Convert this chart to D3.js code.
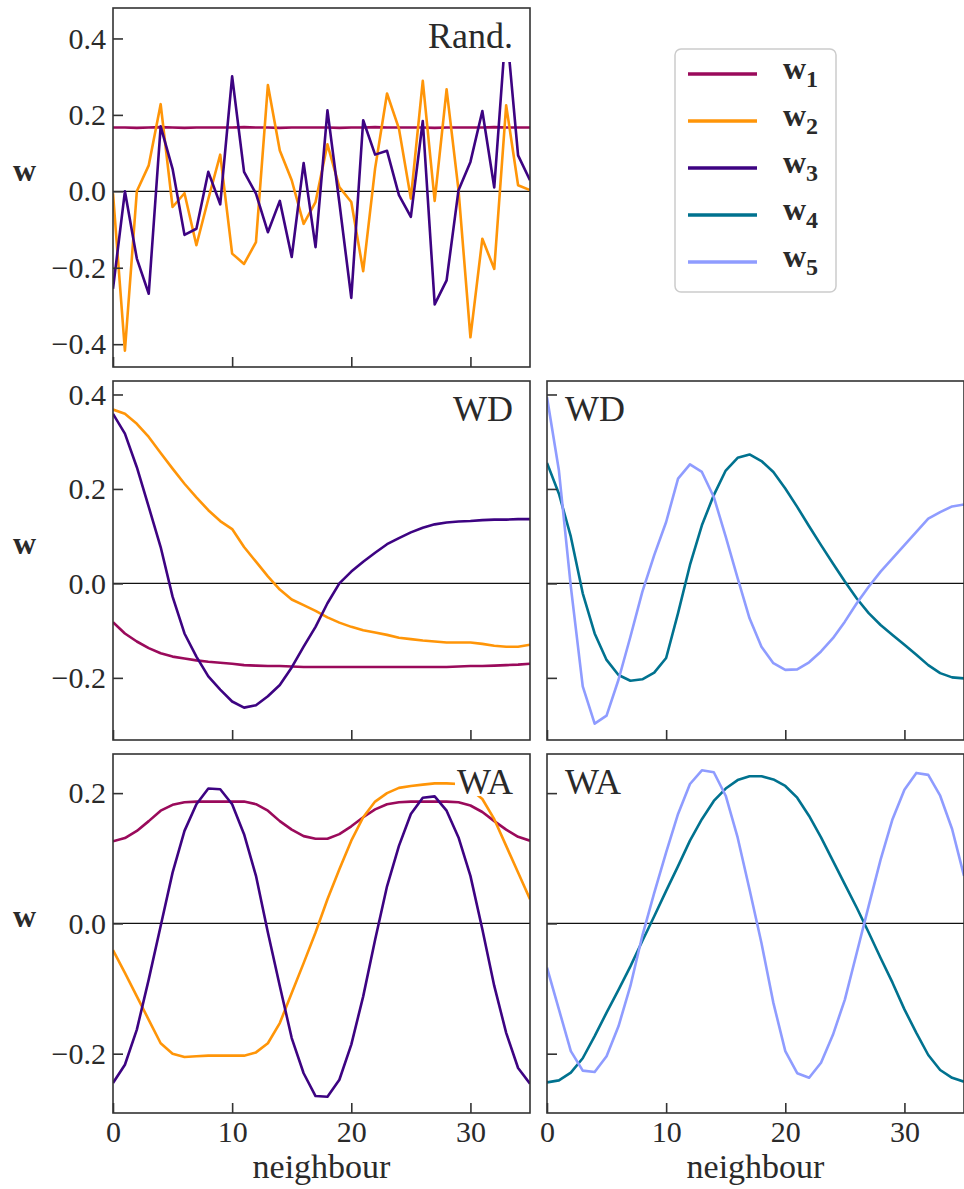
<!DOCTYPE html>
<meta charset="utf-8">
<style>
body { margin: 0; background: #fff; }
svg text { font-family: "Liberation Serif", "Times New Roman", serif !important; fill: #2a2a2a; }
.frame { fill: none; stroke: #333; stroke-width: 1.6; }
.tick line { stroke: #333; stroke-width: 1.6; }
.zero { stroke: #111; stroke-width: 1.3; }
.series { fill: none; stroke-width: 2.6; stroke-linejoin: round; }
</style>
<svg id="svg" width="964" height="1189"></svg>
<script src="https://d3js.org/d3.v7.min.js"></script>
<script>

var neighbour = [0,1,2,3,4,5,6,7,8,9,10,11,12,13,14,15,16,17,18,19,20,21,22,23,24,25,26,27,28,29,30,31,32,33,34,35];
var xTicks = [0, 10, 20, 30];

var seriesNames = ["w1", "w2", "w3", "w4", "w5"];
var seriesColors = ["#9a0a5b", "#ff9508", "#3d0382", "#00728f", "#8f9cff"];

// Rand.
var randW1 = [0.167,0.167,0.166,0.167,0.168,0.167,0.166,0.167,0.167,0.167,0.167,0.168,0.167,0.167,0.166,0.167,0.167,0.167,0.167,0.166,0.167,0.167,0.168,0.167,0.167,0.167,0.167,0.166,0.167,0.167,0.167,0.167,0.168,0.167,0.167,0.167];
var randW2 = [-0.005,-0.417,0.0,0.068,0.228,-0.041,-0.005,-0.141,-0.02,0.096,-0.163,-0.19,-0.133,0.278,0.107,0.029,-0.085,-0.028,0.123,0.011,-0.028,-0.209,0.06,0.256,0.164,-0.019,0.289,-0.025,0.267,0.003,-0.382,-0.124,-0.203,0.225,0.016,0.003];
var randW3 = [-0.255,0.0,-0.176,-0.268,0.17,0.059,-0.114,-0.098,0.051,-0.034,0.301,0.051,-0.006,-0.107,-0.025,-0.172,0.074,-0.146,0.212,-0.03,-0.279,0.186,0.096,0.106,-0.01,-0.067,0.184,-0.296,-0.233,0.003,0.077,0.21,0.01,0.437,0.094,0.029];

// WD
var wdW1 = [-0.082,-0.106,-0.123,-0.137,-0.148,-0.155,-0.159,-0.163,-0.166,-0.168,-0.17,-0.173,-0.174,-0.175,-0.175,-0.176,-0.177,-0.177,-0.177,-0.177,-0.177,-0.177,-0.177,-0.177,-0.177,-0.177,-0.177,-0.177,-0.177,-0.176,-0.175,-0.175,-0.174,-0.173,-0.172,-0.17];
var wdW2 = [0.368,0.359,0.338,0.31,0.276,0.243,0.211,0.182,0.155,0.132,0.115,0.077,0.046,0.015,-0.013,-0.034,-0.046,-0.058,-0.072,-0.083,-0.092,-0.099,-0.104,-0.109,-0.115,-0.118,-0.121,-0.123,-0.125,-0.125,-0.125,-0.128,-0.132,-0.134,-0.134,-0.13];
var wdW3 = [0.359,0.317,0.246,0.162,0.077,-0.028,-0.106,-0.155,-0.197,-0.225,-0.25,-0.263,-0.258,-0.239,-0.215,-0.178,-0.134,-0.092,-0.042,0.0,0.025,0.046,0.065,0.083,0.096,0.108,0.118,0.125,0.129,0.131,0.132,0.134,0.135,0.135,0.136,0.136];
var wdW4 = [0.255,0.19,0.099,-0.021,-0.106,-0.162,-0.194,-0.206,-0.203,-0.189,-0.158,-0.063,0.039,0.123,0.187,0.239,0.266,0.273,0.259,0.236,0.201,0.162,0.121,0.081,0.042,0.004,-0.032,-0.063,-0.088,-0.109,-0.13,-0.151,-0.173,-0.19,-0.199,-0.201];
var wdW5 = [0.394,0.239,-0.007,-0.218,-0.297,-0.28,-0.204,-0.113,-0.018,0.06,0.13,0.222,0.252,0.236,0.183,0.099,0.011,-0.074,-0.134,-0.169,-0.183,-0.182,-0.167,-0.144,-0.116,-0.081,-0.042,-0.007,0.025,0.053,0.081,0.109,0.137,0.151,0.163,0.167];

// WA
var waW1 = [0.126,0.131,0.142,0.157,0.173,0.182,0.186,0.187,0.187,0.187,0.187,0.187,0.183,0.173,0.157,0.144,0.134,0.13,0.13,0.137,0.149,0.163,0.175,0.183,0.186,0.187,0.187,0.187,0.187,0.186,0.181,0.171,0.157,0.144,0.133,0.127];
var waW2 = [-0.041,-0.076,-0.112,-0.148,-0.184,-0.2,-0.205,-0.204,-0.203,-0.203,-0.203,-0.203,-0.198,-0.184,-0.153,-0.107,-0.061,-0.014,0.037,0.083,0.127,0.163,0.187,0.2,0.208,0.211,0.213,0.215,0.215,0.214,0.206,0.191,0.16,0.119,0.078,0.037];
var waW3 = [-0.245,-0.217,-0.163,-0.086,-0.004,0.078,0.142,0.183,0.207,0.206,0.183,0.137,0.073,-0.014,-0.096,-0.176,-0.23,-0.265,-0.266,-0.24,-0.186,-0.112,-0.025,0.057,0.119,0.168,0.193,0.195,0.173,0.132,0.073,-0.009,-0.096,-0.168,-0.222,-0.246];
var waW4 = [-0.244,-0.241,-0.229,-0.207,-0.173,-0.137,-0.102,-0.066,-0.027,0.011,0.05,0.088,0.127,0.16,0.188,0.207,0.22,0.226,0.226,0.221,0.211,0.193,0.165,0.132,0.096,0.06,0.024,-0.014,-0.053,-0.091,-0.132,-0.168,-0.202,-0.225,-0.237,-0.243];
var waW5 = [-0.068,-0.132,-0.196,-0.226,-0.228,-0.204,-0.158,-0.096,-0.019,0.047,0.109,0.168,0.214,0.235,0.232,0.196,0.132,0.052,-0.03,-0.122,-0.196,-0.23,-0.237,-0.214,-0.171,-0.117,-0.045,0.027,0.098,0.16,0.205,0.231,0.228,0.196,0.145,0.073];

var yTicksRand = [-0.4, -0.2, 0.0, 0.2, 0.4];
var yTicksWD = [-0.2, 0.0, 0.2, 0.4];
var yTicksWA = [-0.2, 0.0, 0.2];

var svg = d3.select("svg");

var colX = [113, 547], plotW = 417;
var rowY = [8, 381, 754], plotH = 359;

// boxDepth: how far the white label box reaches below the baseline
var rows = [
  { ticks: yTicksRand, panels: [
      { col: 0, label: "Rand.", boxDepth: 14, series: [[0, randW1], [1, randW2], [2, randW3]] } ] },
  { ticks: yTicksWD, panels: [
      { col: 0, label: "WD", boxDepth: 3, series: [[0, wdW1], [1, wdW2], [2, wdW3]] },
      { col: 1, label: "WD", boxDepth: 3, series: [[3, wdW4], [4, wdW5]] } ] },
  { ticks: yTicksWA, panels: [
      { col: 0, label: "WA", boxDepth: 2, series: [[0, waW1], [1, waW2], [2, waW3]] },
      { col: 1, label: "WA", boxDepth: 2, series: [[3, waW4], [4, waW5]] } ] }
];

var fmt = d3.format(".1f");

rows.forEach(function(row, ri) {
  // shared y range per row, with a 5% margin like matplotlib
  var all = [];
  row.panels.forEach(function(p) { p.series.forEach(function(s) { all = all.concat(s[1]); }); });
  var lo = d3.min(all), hi = d3.max(all), pad = (hi - lo) * 0.05;
  var y = d3.scaleLinear().domain([lo - pad, hi + pad]).range([rowY[ri] + plotH, rowY[ri]]);

  row.panels.forEach(function(p, pi) {
    var x = d3.scaleLinear().domain([0, 35]).range([colX[p.col], colX[p.col] + plotW]);
    var clipId = "clip" + ri + "_" + pi;
    svg.append("clipPath").attr("id", clipId)
      .append("rect")
        .attr("x", colX[p.col]).attr("y", rowY[ri])
        .attr("width", plotW).attr("height", plotH);

    var g = svg.append("g").attr("clip-path", "url(#" + clipId + ")");

    g.append("line").attr("class", "zero")
        .attr("x1", colX[p.col]).attr("x2", colX[p.col] + plotW)
        .attr("y1", y(0)).attr("y2", y(0));

    var line = d3.line()
        .x(function(d, i) { return x(neighbour[i]); })
        .y(function(d) { return y(d); });

    p.series.forEach(function(s) {
      g.append("path").attr("class", "series")
          .attr("stroke", seriesColors[s[0]])
          .attr("d", line(s[1]));
    });

    // panel label with a white box behind it
    var baseY = rowY[ri] + 40;
    var lab = svg.append("text")
        .attr("font-size", 36)
        .attr("y", baseY)
        .attr("x", p.col === 0 ? colX[p.col] + plotW - 17 : colX[p.col] + 18)
        .attr("text-anchor", p.col === 0 ? "end" : "start")
        .text(p.label);
    var bb = lab.node().getBBox();
    svg.insert("rect", function() { return lab.node(); })
        .attr("x", bb.x - 2).attr("y", baseY - 28)
        .attr("width", bb.width + 4).attr("height", 28 + p.boxDepth)
        .attr("fill", "#fff");

    // axes with inward ticks
    var ya = d3.axisLeft(y).tickValues(row.ticks).tickSize(-10).tickPadding(7)
        .tickFormat(p.col === 0 ? fmt : "");
    var yg = svg.append("g").attr("transform", "translate(" + colX[p.col] + ",0)").call(ya);
    yg.select(".domain").remove();
    yg.attr("font-family", null).selectAll("text").attr("font-size", 30);

    var xa = d3.axisBottom(x).tickValues(xTicks).tickSize(-10).tickPadding(8)
        .tickFormat(ri === 2 ? d3.format("d") : "");
    var xg = svg.append("g").attr("transform", "translate(0," + (rowY[ri] + plotH) + ")").call(xa);
    xg.select(".domain").remove();
    xg.attr("font-family", null).selectAll("text").attr("font-size", 30);

    svg.append("rect").attr("class", "frame")
        .attr("x", colX[p.col]).attr("y", rowY[ri])
        .attr("width", plotW).attr("height", plotH);

    if (ri === 2) {
      svg.append("text")
          .attr("x", colX[p.col] + plotW / 2)
          .attr("y", 1178)
          .attr("text-anchor", "middle")
          .attr("font-size", 34)
          .text("neighbour");
    }
  });

  svg.append("text")
      .attr("x", 13)
      .attr("y", rowY[ri] + plotH / 2 - 7)
      .attr("font-size", 32)
      .attr("font-weight", "bold")
      .text("w");
});

// legend
var legend = svg.append("g");
legend.append("rect")
    .attr("x", 675).attr("y", 49)
    .attr("width", 161).attr("height", 243)
    .attr("rx", 6)
    .attr("fill", "#fff")
    .attr("stroke", "#ccc")
    .attr("stroke-width", 1.5);

seriesNames.forEach(function(name, i) {
  var yy = 74 + 47 * i;
  legend.append("line")
      .attr("x1", 688).attr("x2", 757)
      .attr("y1", yy).attr("y2", yy)
      .attr("stroke", seriesColors[i])
      .attr("stroke-width", 3.5);
  var t = legend.append("text")
      .attr("x", 783).attr("y", yy + 5)
      .attr("font-size", 32)
      .attr("font-weight", "bold");
  t.append("tspan").text("w");
  t.append("tspan").attr("font-size", 24).attr("dy", 8).text(name.slice(1));
});

</script>
